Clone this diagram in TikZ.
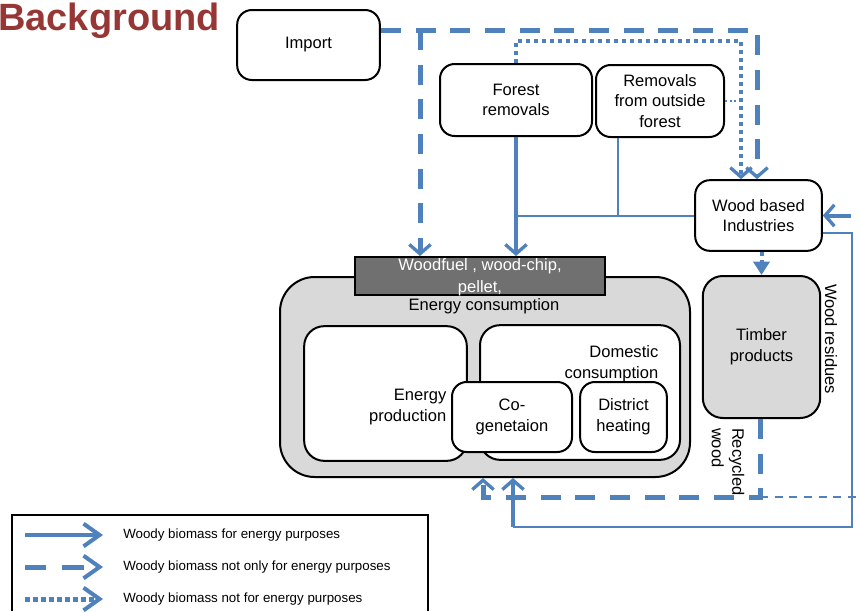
\documentclass[tikz,border=0pt]{standalone}
\usepackage{fontspec}
\setmainfont{Liberation Sans}
\usepackage{xcolor}
\usepackage{tikz}
\usetikzlibrary{arrows.meta}
\definecolor{flowblue}{RGB}{79,129,189}
\definecolor{titlered}{RGB}{150,55,53}
\definecolor{boxgray}{RGB}{217,217,217}
\definecolor{bargray}{RGB}{112,112,112}

\begin{document}
\begin{tikzpicture}[x=0.75pt,y=-0.75pt,
  font=\fontsize{12.4}{15.5}\selectfont,
  >={Straight Barb[length=7pt,width=16pt,line width=2.5pt]},
  box/.style={draw, line width=1.5pt, rounded corners=11pt, fill=white, align=center, inner sep=0pt},
  dashflow/.style={flowblue, line width=3.75pt, dash pattern=on 15pt off 11pt},
  dotflow/.style={flowblue, line width=3pt, dash pattern=on 3pt off 3pt},
  dotthin/.style={flowblue, line width=1.5pt, dash pattern=on 1.5pt off 2pt},
  solidflow/.style={flowblue, line width=3pt},
  thinflow/.style={flowblue, line width=1.5pt},
  thindash/.style={flowblue, line width=1.5pt, dash pattern=on 6pt off 5pt},
  shortflow/.style={flowblue, line width=3pt, dash pattern=on 3pt off 3pt, -{Triangle[length=10pt,width=12pt]}},
  legendtip/.style={-{Straight Barb[length=12pt,width=17pt,line width=3pt]}},
  legendtext/.style={anchor=west, inner sep=0pt, font=\fontsize{10}{12}\selectfont}]
\useasboundingbox (0,0) rectangle (860,611);
\clip (0,0) rectangle (860,611);

\node[anchor=base west, inner sep=0pt, text=titlered, font=\bfseries\fontsize{28.5}{30}\selectfont] (title) at (-2,30) {Background};

\node[box, minimum width=107pt, minimum height=52.5pt] (import) at (308.5,45) {Import};
\node[box, minimum width=114pt, minimum height=54pt] (forest) at (516,100) {Forest\\removals};
\node[box, minimum width=96pt, minimum height=54pt] (outside) at (660,101) {Removals\\from outside\\forest};
\node[box, minimum width=95pt, minimum height=53pt] (industry) at (758.5,215.5) {Wood based\\Industries};

\node[box, fill=boxgray, rounded corners=26pt, minimum width=307.5pt, minimum height=150pt] (energy) at (485,377) {};
\node (energylabel) at (484,306) {Energy consumption};
\node[box, rounded corners=15pt, minimum width=122pt, minimum height=101pt] (production) at (385.5,393.5) {};
\node[anchor=east, align=right] (productionlabel) at (451,407) {Energy\\production};
\node[box, rounded corners=15pt, minimum width=150pt, minimum height=101pt] (domestic) at (580,392.5) {};
\node[anchor=east, align=right] (domesticlabel) at (663,363.5) {Domestic\\consumption};
\node[box, minimum width=90pt, minimum height=52.5pt] (cogen) at (512,417) {Co-\\genetaion};
\node[box, minimum width=65pt, minimum height=52.5pt] (district) at (623.5,417) {District\\heating};
\node[draw, line width=1.5pt, fill=bargray, minimum width=187.5pt, minimum height=28.5pt, inner sep=0pt] (woodfuel) at (480,276) {};
\node[text=white, align=center, font=\fontsize{12.4}{16.5}\selectfont] (woodfuellabel) at (480,277) {Woodfuel , wood-chip,\\pellet,};

\node[box, fill=boxgray, rounded corners=15pt, minimum width=88pt, minimum height=106.5pt] (timber) at (761.5,347) {Timber\\products};
\node[rotate=-90] (residues) at (831,339) {Wood residues};
\node[rotate=-90, align=left] (recycled) at (728,462) {Recycled\\wood};

\coordinate (importcorner) at (757,30);
\coordinate (importbranch) at (420,30);
\draw[dashflow,->] ([yshift=11.25pt]import.east) -- (importcorner) -- (industry.north -| importcorner);
\draw[dashflow,->] (importbranch) -- (importbranch |- woodfuel.north);

\coordinate (dotcorner) at (741,41);
\draw[dotflow,->] (forest.north) |- (dotcorner) -- (dotcorner |- industry.north);
\draw[dotthin] (outside.east) -- (outside.east -| dotcorner);

\draw[solidflow,->] (forest.south) -- (forest.south |- woodfuel.north);
\draw[thinflow] (industry.west) -- (industry.west -| forest.south);
\draw[thinflow] ([xshift=-31.5pt]outside.south) -- ([xshift=-31.5pt]outside.south |- industry.west);

\draw[shortflow] (industry.south -| timber.north) -- (timber.north);

\coordinate (loopright) at (852,527);
\coordinate (loopleft) at (513,527);
\draw[thinflow] ([yshift=-13pt]industry.east) -| (loopright) -- (loopleft);
\draw[solidflow,->] (loopleft) -- (loopleft |- energy.south);

\coordinate (residuesin) at (851,215.5);
\draw[solidflow,->] (residuesin) -- (industry.east);

\coordinate (recycledcorner) at (760,497);
\coordinate (recycledleft) at (483,497);
\coordinate (rightedge) at (860,497);
\draw[dashflow,->] (timber.south -| recycledcorner) -- (recycledcorner) -- (recycledleft) -- (recycledleft |- energy.south);
\draw[thindash] (recycledcorner) -- (rightedge);

\draw[line width=1.5pt] (12,611) |- (428,515) -- (428,611);
\node[legendtext] (legsolid) at (123,535) {Woody biomass for energy purposes};
\node[legendtext] (legdash) at (123,567) {Woody biomass not only for energy purposes};
\node[legendtext] (legdot) at (123,599) {Woody biomass not for energy purposes};
\coordinate (legsolidstart) at (25,535);
\coordinate (legdashstart) at (25,567);
\coordinate (legdotstart) at (25,599);
\draw[solidflow,legendtip] (legsolidstart) -- ([xshift=-15pt]legsolid.west);
\draw[flowblue, line width=3.75pt, dash pattern=on 16pt off 12pt, legendtip] (legdashstart) -- ([xshift=-15pt]legdash.west);
\draw[flowblue, line width=3.75pt, dash pattern=on 3.5pt off 2.5pt, legendtip] (legdotstart) -- ([xshift=-15pt]legdot.west);
\end{tikzpicture}
\end{document}
